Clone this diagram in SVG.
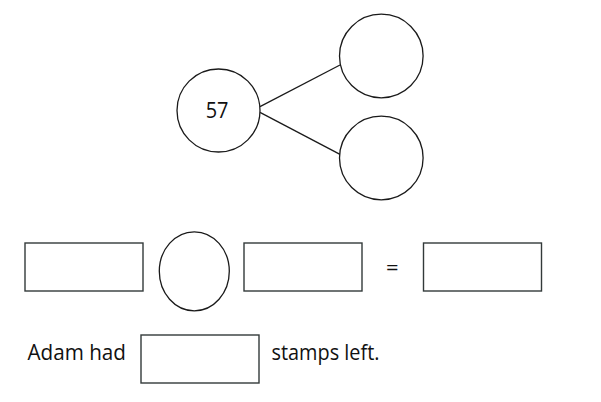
<svg xmlns="http://www.w3.org/2000/svg" width="601" height="402" viewBox="0 0 601 402">
<style>
.shape{fill:#fff;stroke:#1a1a1a;stroke-width:1.3}
.box{fill:#fff;stroke:#333a3a;stroke-width:1.4}
.line{stroke:#1a1a1a;stroke-width:1.3;fill:none}
.t{font-family:"Open Sans","Noto Sans","Liberation Sans",sans-serif;font-size:22px;fill:#111}
</style>
<rect width="601" height="402" fill="#fff"/>
<g id="connectors">
<line class="line" x1="260" y1="106.7" x2="340" y2="65"/>
<line class="line" x1="260" y1="112.3" x2="340" y2="154.3"/>
</g>
<g id="node-57">
<circle class="shape" cx="218.5" cy="110.5" r="41.5"/>
<text class="t" x="205.7" y="117.5" textLength="22.8" lengthAdjust="spacingAndGlyphs">57</text>
</g>
<g id="node-top"><circle class="shape" cx="381.3" cy="56" r="41.8"/></g>
<g id="node-bottom"><circle class="shape" cx="381.3" cy="158" r="41.8"/></g>
<g id="box1"><rect class="box" x="25" y="243" width="118" height="48"/></g>
<g id="op"><ellipse class="shape" cx="194.3" cy="271.3" rx="35" ry="39.5"/></g>
<g id="box2"><rect class="box" x="244" y="243" width="118" height="48"/></g>
<g id="equals"><text class="t" x="392.3" y="274.5" text-anchor="middle">=</text></g>
<g id="box3"><rect class="box" x="423.5" y="243" width="118" height="48"/></g>
<g id="sentence">
<text class="t" x="27.5" y="360" textLength="98.5" lengthAdjust="spacingAndGlyphs">Adam had</text>
<rect class="box" x="141" y="335" width="118" height="48"/>
<text class="t" x="271.5" y="360" textLength="108" lengthAdjust="spacingAndGlyphs">stamps left.</text>
</g>
</svg>
